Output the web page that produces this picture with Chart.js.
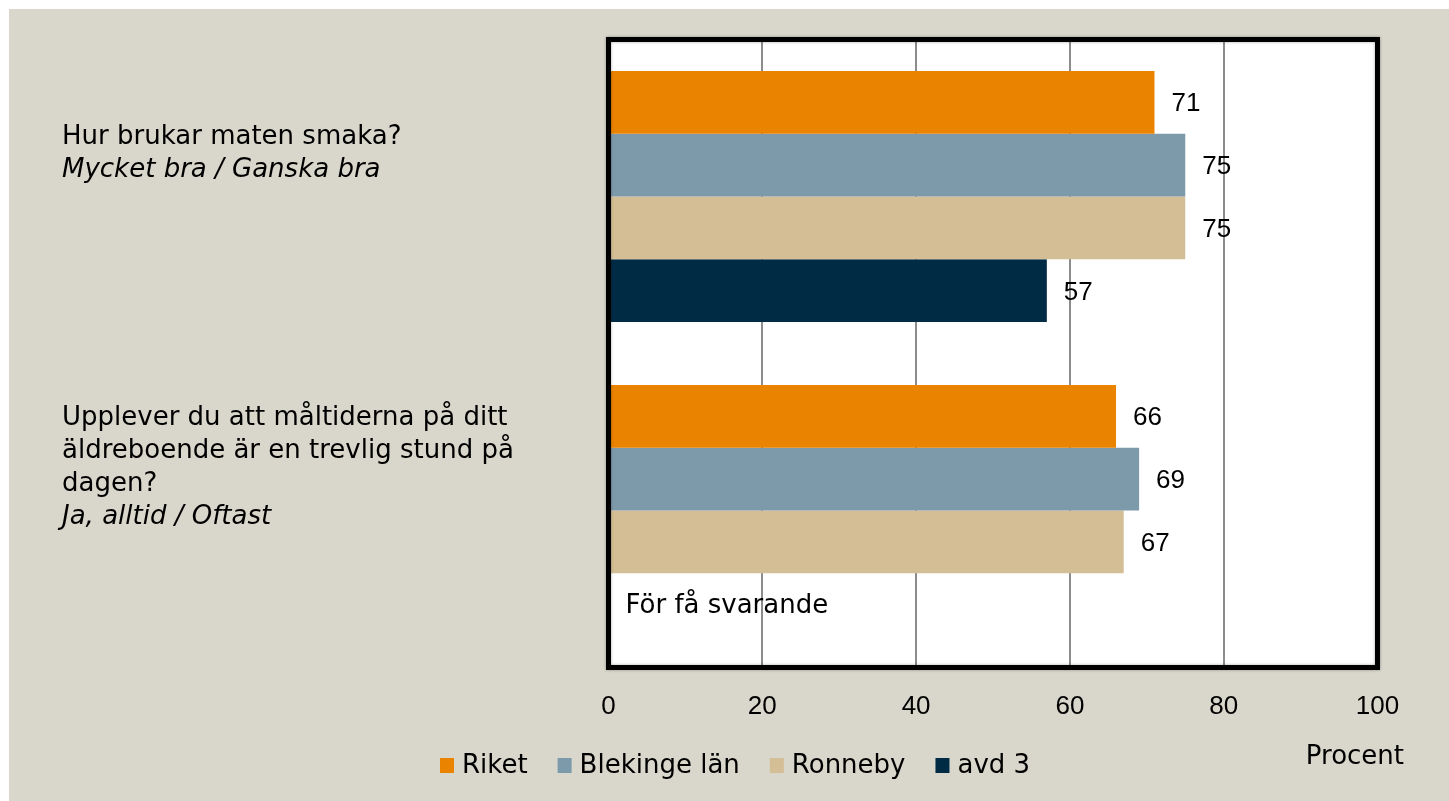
<!DOCTYPE html>
<html lang="sv">
<head>
<meta charset="utf-8">
<title>Måltider</title>
<script src="https://cdn.jsdelivr.net/npm/chart.js@4"></script>
<style>
  html, body { margin: 0; padding: 0; background: #fff; }
  #wrap {
    position: absolute; left: 9px; top: 9px;
    width: 1440px; height: 792px;
    background: #d9d7cb;
  }
</style>
</head>
<body>
<div id="wrap"><canvas id="chart"></canvas></div>
<script>
const questions = [
  ['Hur brukar maten smaka?'],
  ['Upplever du att måltiderna på ditt', 'äldreboende är en trevlig stund på', 'dagen?']
];
const answers = ['Mycket bra / Ganska bra', 'Ja, alltid / Oftast'];
const seriesNames = ['Riket', 'Blekinge län', 'Ronneby', 'avd 3'];
const riket = [71, 66];
const blekinge = [75, 69];
const ronneby = [75, 67];
const avd3 = [57, null];
const seriesColors = ['#e98300', '#7d9aab', '#d3be95', '#002b45'];
const xTicks = [0, 20, 40, 60, 80, 100];
const axisTitle = 'Procent';
const tooFew = 'För få svarande';

const TEXT_FONT = '"DejaVu Sans", sans-serif';
const NUM_FONT = '"Liberation Sans", Arial, sans-serif';

const decorations = {
  id: 'decorations',
  beforeDraw(chart) {
    const { ctx, chartArea: a } = chart;
    ctx.save();
    ctx.fillStyle = '#fff';
    ctx.fillRect(a.left, a.top, a.width, a.height);
    ctx.restore();
  },
  afterDatasetsDraw(chart) {
    const { ctx, chartArea: a, scales: { x } } = chart;
    ctx.save();
    ctx.fillStyle = '#000';
    ctx.textBaseline = 'middle';
    ctx.textAlign = 'left';

    // value labels
    ctx.font = '26px ' + NUM_FONT;
    chart.data.datasets.forEach((ds, i) => {
      chart.getDatasetMeta(i).data.forEach((bar, j) => {
        if (ds.data[j] == null) return;
        ctx.fillText(ds.data[j], bar.x + 17, bar.y + 2);
      });
    });

    // missing bar note
    ctx.font = '26px ' + TEXT_FONT;
    const m0 = chart.getDatasetMeta(0).data;
    const m3 = chart.getDatasetMeta(3).data;
    avd3.forEach((v, j) => {
      if (v != null) return;
      const yy = m3[0].y - m0[0].y + m0[j].y;
      ctx.fillText(tooFew, x.getPixelForValue(0) + 17, yy + 2);
    });

    // frame
    ctx.shadowColor = 'rgba(0,0,0,0.35)';
    ctx.shadowBlur = 3;
    ctx.lineWidth = 5;
    ctx.strokeStyle = '#000';
    ctx.strokeRect(a.left, a.top, a.width, a.height);
    ctx.restore();
  },
  afterDraw(chart) {
    const { ctx, scales: { y } } = chart;
    ctx.save();
    ctx.fillStyle = '#000';
    ctx.textBaseline = 'middle';
    ctx.textAlign = 'left';

    // question labels on the left
    const lineH = 33;
    questions.forEach((lines, i) => {
      const all = lines.concat([answers[i]]);
      const center = y.getPixelForValue(i) - 43;
      let yy = center - (all.length - 1) / 2 * lineH;
      all.forEach((t, k) => {
        ctx.font = (k === all.length - 1 ? 'italic ' : '') + '26px ' + TEXT_FONT;
        ctx.fillText(t, 53, yy);
        yy += lineH;
      });
    });

    // legend
    ctx.font = '26px ' + TEXT_FONT;
    let lx = 431;
    const ly = 757;
    seriesNames.forEach((name, i) => {
      ctx.fillStyle = seriesColors[i];
      ctx.fillRect(lx, ly - 8, 14, 15);
      ctx.fillStyle = '#000';
      ctx.fillText(name, lx + 22, ly);
      lx += 22 + ctx.measureText(name).width + 30;
    });

    // axis title
    ctx.textAlign = 'right';
    ctx.textBaseline = 'alphabetic';
    ctx.fillText(axisTitle, 1395, 755);
    ctx.restore();
  }
};

new Chart(document.getElementById('chart'), {
  type: 'bar',
  data: {
    labels: questions.map(q => q.join(' ')),
    datasets: [riket, blekinge, ronneby, avd3].map((d, i) => ({
      label: seriesNames[i],
      data: d,
      backgroundColor: seriesColors[i],
      borderWidth: 0,
      categoryPercentage: 0.8,
      barPercentage: 1.0
    }))
  },
  options: {
    indexAxis: 'y',
    responsive: true,
    maintainAspectRatio: false,
    animation: false,
    layout: { padding: { left: 599.5, right: 71.5, top: 30.5, bottom: 73.5 } },
    scales: {
      x: {
        min: 0, max: 100,
        afterBuildTicks: s => { s.ticks = xTicks.map(v => ({ value: v })); },
        afterFit: s => { s.height = 60; },
        grid: {
          drawTicks: false,
          lineWidth: 2,
          color: c => (c.tick && (c.tick.value === 0 || c.tick.value === 100)) ? 'rgba(0,0,0,0)' : '#8c8c8c'
        },
        border: { display: false },
        ticks: { color: '#000', padding: 24, font: { size: 26, family: NUM_FONT } }
      },
      y: { display: false }
    },
    plugins: {
      legend: { display: false },
      tooltip: { enabled: false }
    }
  },
  plugins: [decorations]
});
</script>
</body>
</html>
